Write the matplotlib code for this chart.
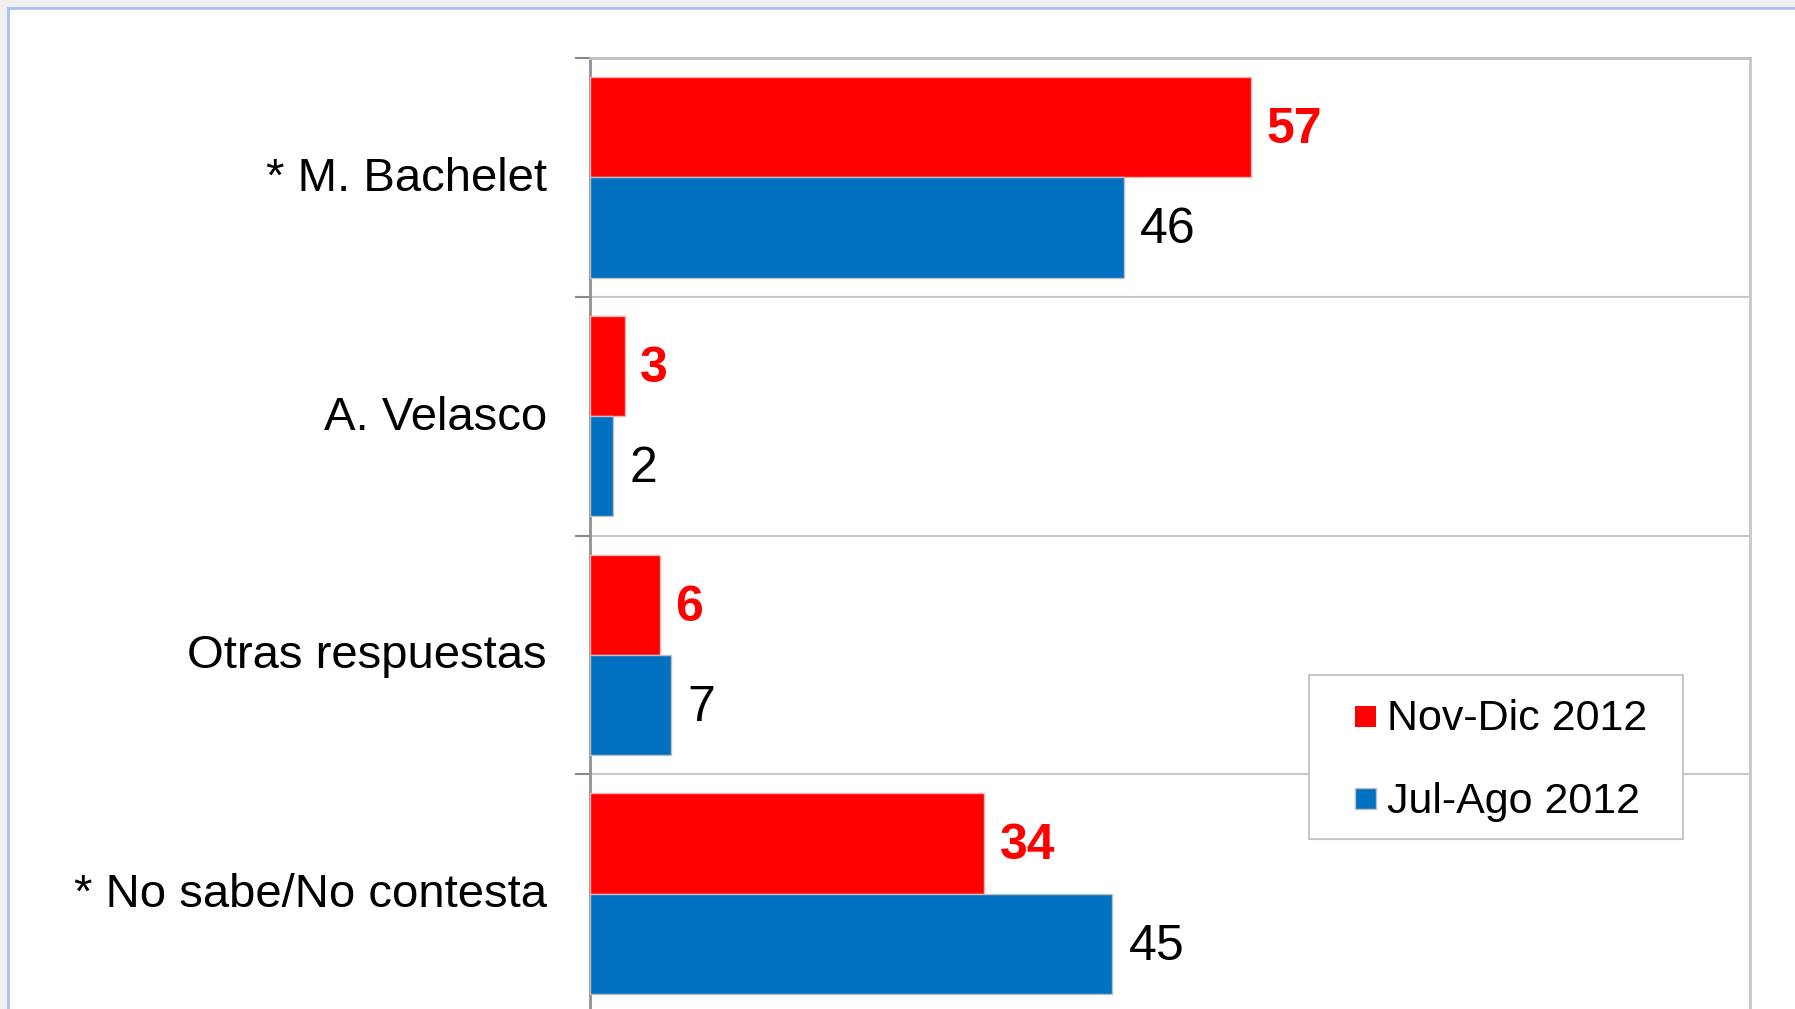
import matplotlib
matplotlib.use("Agg")
import matplotlib.pyplot as plt
from matplotlib.patches import Rectangle
from matplotlib.transforms import ScaledTranslation
import numpy as np

plt.rcParams['font.family'] = ['Liberation Sans', 'DejaVu Sans']

categories = ["* M. Bachelet", "A. Velasco", "Otras respuestas", "* No sabe/No contesta"]
nov_dic_2012 = [57, 3, 6, 34]
jul_ago_2012 = [46, 2, 7, 45]
series_names = ["Nov-Dic 2012", "Jul-Ago 2012"]

RED = "#FF0000"
BLUE = "#0070C0"

W, H = 1795, 1009
fig = plt.figure(figsize=(W / 100, H / 100), dpi=100, facecolor="#f0f0f0")


def fx(px):
    return px / W


def fy(py):
    return 1 - py / H


# outer frame (white panel with light blue border)
frame = Rectangle((fx(8), -0.1), 1.2, fy(8) + 0.1, transform=fig.transFigure,
                  facecolor="white", edgecolor="#a9bff5", linewidth=2, zorder=-10)
fig.patches.append(frame)

ax = fig.add_axes([fx(590), fy(1013), fx(1750) - fx(590), fy(58) - fy(1013)])
ax.set_facecolor("white")
ax.set_zorder(1)

y = np.arange(len(categories))
h = 0.42
ax.barh(y - h / 2, nov_dic_2012, height=h, color=RED, edgecolor="#f2b0b0", linewidth=1, zorder=3)
ax.barh(y + h / 2, jul_ago_2012, height=h, color=BLUE, edgecolor="#c0c0c0", linewidth=1, zorder=3)

for yi, v in zip(y, nov_dic_2012):
    ax.annotate(str(v), (v, yi - h / 2), xytext=(11, -2), textcoords="offset points",
                ha="left", va="center", fontsize=36, fontweight="bold", color=RED)
for yi, v in zip(y, jul_ago_2012):
    ax.annotate(str(v), (v, yi + h / 2), xytext=(12, -2), textcoords="offset points",
                ha="left", va="center", fontsize=36, color="black")

ax.set_xlim(0, 100)
ax.set_ylim(3.5, -0.5)
ax.set_xticks([])
ax.set_yticks(y)
ax.set_yticklabels(categories, fontsize=34)
ax.tick_params(axis="y", which="major", length=0, pad=31)
for lab in ax.get_yticklabels():
    lab.set_transform(lab.get_transform() + ScaledTranslation(0, 0.035, fig.dpi_scale_trans))
ax.set_yticks(np.arange(-0.5, 3.6, 1.0), minor=True)
ax.tick_params(axis="y", which="minor", length=11, width=1.5, color="#888888")
for b in [0.5, 1.5, 2.5]:
    ax.axhline(b, color="#c8c8c8", linewidth=1.5, zorder=1)

ax.spines["left"].set_color("#909090")
ax.spines["left"].set_linewidth(2)
ax.spines["top"].set_color("#c0c0c0")
ax.spines["top"].set_linewidth(2)
ax.spines["right"].set_color("#c8c8c8")
ax.spines["right"].set_linewidth(2)
ax.spines["bottom"].set_visible(False)

# legend (drawn as a boxed key)
fig.patches.append(Rectangle((fx(1309), fy(839)), fx(1683) - fx(1309), fy(675) - fy(839),
                             transform=fig.transFigure, facecolor="white",
                             edgecolor="#c8c8c8", linewidth=1.5, zorder=5))
leg_colors = [RED, BLUE]
leg_edges = ["none", "#c0c0c0"]
leg_sq_top = [706, 788]
leg_baseline = [730, 813]
for name, c, ec, st, bl in zip(series_names, leg_colors, leg_edges, leg_sq_top, leg_baseline):
    fig.patches.append(Rectangle((fx(1355), fy(st + 21)), fx(1376) - fx(1355), fy(st) - fy(st + 21),
                                 transform=fig.transFigure, facecolor=c, edgecolor=ec,
                                 linewidth=1, zorder=6))
    fig.text(fx(1387), fy(bl), name, fontsize=31, ha="left", va="baseline", zorder=7)

fig.savefig("out.png", dpi=100, facecolor=fig.get_facecolor())
